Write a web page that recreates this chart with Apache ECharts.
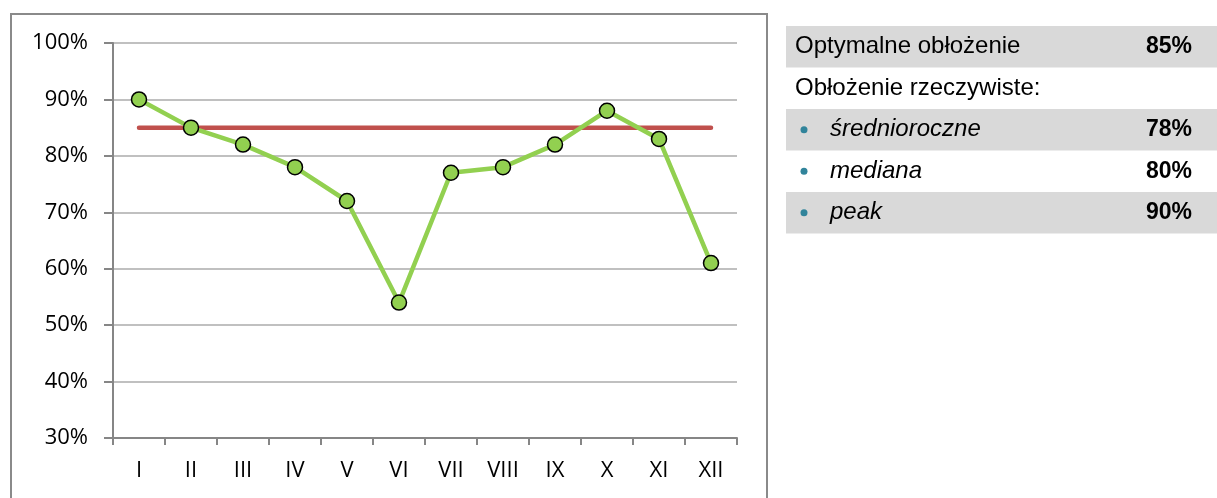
<!DOCTYPE html>
<html>
<head>
<meta charset="utf-8">
<script src="https://cdn.jsdelivr.net/npm/echarts@6/dist/echarts.min.js"></script>
<style>
  html, body { margin: 0; padding: 0; background: #fff; }
  #main { width: 1217px; height: 498px; }
</style>
</head>
<body>
<div id="main"></div>
<script>
var months = ['I', 'II', 'III', 'IV', 'V', 'VI', 'VII', 'VIII', 'IX', 'X', 'XI', 'XII'];
var occupancy = [90, 85, 82, 78, 72, 54, 77, 78, 82, 88, 83, 61];
var optimal = [85, 85, 85, 85, 85, 85, 85, 85, 85, 85, 85, 85];

// tabelka po prawej
var tableLabels = ['Optymalne obłożenie', 'Obłożenie rzeczywiste:', 'średnioroczne', 'mediana', 'peak'];
var tableValues = ['85%', '', '78%', '80%', '90%'];
var tableBullet = [false, false, true, true, true];

var dom = document.getElementById('main');
var myChart = echarts.init(dom);

var graphics = [{
    type: 'rect',
    shape: { x: 11, y: 14, width: 756, height: 500 },
    style: { fill: 'none', stroke: '#8a8a8a', lineWidth: 2 },
    z: -1
}];

var rowTop = 26, rowH = 41.5;
tableLabels.forEach(function (label, i) {
    var y = rowTop + i * rowH;
    if (i % 2 === 0) {
        graphics.push({
            type: 'rect',
            shape: { x: 786, y: y, width: 431, height: rowH },
            style: { fill: '#d9d9d9' }
        });
    }
    var cy = y + rowH / 2;
    if (tableBullet[i]) {
        graphics.push({
            type: 'circle',
            shape: { cx: 804, cy: cy, r: 3.5 },
            style: { fill: '#31849b' }
        });
    }
    graphics.push({
        type: 'text',
        x: tableBullet[i] ? 830 : 795,
        y: cy,
        style: {
            text: label,
            font: (tableBullet[i] ? 'italic ' : '') + '24px "Liberation Sans", Arial, sans-serif',
            fill: '#000',
            textVerticalAlign: 'middle'
        }
    });
    if (tableValues[i]) {
        graphics.push({
            type: 'text',
            x: 1192,
            y: cy,
            style: {
                text: tableValues[i],
                font: 'bold 23px "Liberation Sans", Arial, sans-serif',
                fill: '#000',
                textAlign: 'right',
                textVerticalAlign: 'middle'
            }
        });
    }
});

option = {
    animation: false,
    grid: {
        left: 113,
        top: 43,
        right: 480,
        bottom: 60
    },
    xAxis: {
        type: 'category',
        data: months,
        boundaryGap: true,
        axisLine: { lineStyle: { color: '#868686', width: 2 } },
        axisTick: { show: true, length: 7, lineStyle: { color: '#868686', width: 2 } },
        axisLabel: {
            color: '#000',
            fontSize: 22,
            fontFamily: '"Open Sans", "Liberation Sans", sans-serif',
            margin: 22
        }
    },
    yAxis: {
        type: 'value',
        min: 30,
        max: 100,
        interval: 10,
        axisLine: { show: true, lineStyle: { color: '#868686', width: 2 } },
        axisTick: { show: true, length: 9, lineStyle: { color: '#868686', width: 2 } },
        splitLine: { lineStyle: { color: '#c0c0c0', width: 2 } },
        axisLabel: {
            formatter: '{value}%',
            color: '#000',
            fontSize: 22,
            fontFamily: '"Open Sans", "Liberation Sans", sans-serif',
            margin: 25
        }
    },
    series: [{
        name: 'Optymalne',
        type: 'line',
        data: optimal,
        symbol: 'none',
        lineStyle: { color: '#c0504d', width: 4.5, cap: 'round' },
        z: 2
    }, {
        name: 'Obłożenie',
        type: 'line',
        data: occupancy,
        symbol: 'circle',
        symbolSize: 15,
        lineStyle: { color: '#92d050', width: 4.5 },
        itemStyle: { color: '#92d050', borderColor: '#000', borderWidth: 1.5 },
        z: 3
    }],
    graphic: graphics
};

if (option && typeof option === 'object') {
    myChart.setOption(option, true);
}
</script>
</body>
</html>
